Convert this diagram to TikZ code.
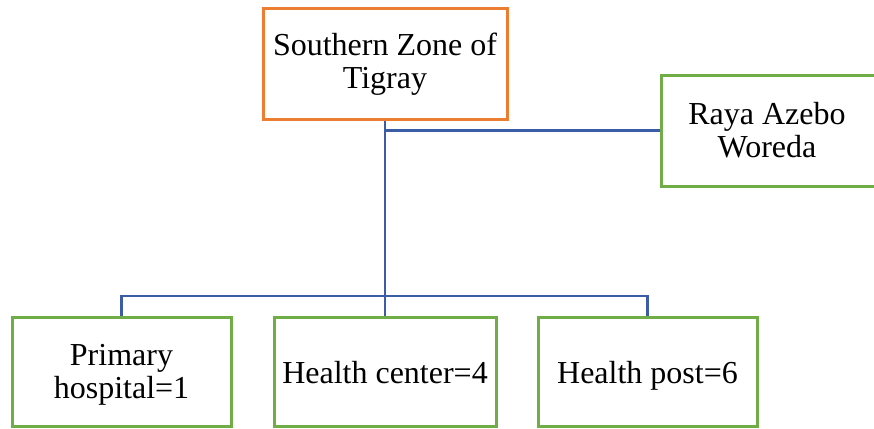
\documentclass[tikz,border=0pt]{standalone}
\usepackage{fontspec}
\setmainfont{Liberation Serif}
\usepackage{tikz}
\definecolor{boxorange}{HTML}{ED7D31}
\definecolor{boxgreen}{HTML}{70AD47}
\definecolor{linkblue}{HTML}{3B5CA6}
\begin{document}
\begin{tikzpicture}[
        x=1pt, y=-1pt,
        every node/.append style={font=\fontsize{32}{33}\selectfont}
    ]
    \tikzstyle{unit}=[draw=boxgreen,line width=3pt,fill=white,align=center,inner sep=0pt];
    \tikzstyle{facility}=[unit,minimum height=109pt,text height=24pt,text depth=1pt];
    \tikzstyle{link}=[draw=linkblue,line width=2.8pt];
    \useasboundingbox (0,0) rectangle (874,428);
    % zone
    \node[unit,draw=boxorange,minimum width=244pt,minimum height=110pt] (zone) at (385,64) {Southern Zone of\\Tigray};
    % woreda
    \node[unit,minimum width=222pt,minimum height=111pt] (woreda) at (772,130.5) {\hspace*{-10pt}Raya Azebo\\\hspace*{-10pt}Woreda};
    % facilities
    \node[facility,minimum width=219pt,text height=57pt,text depth=4pt] (hosp) at (121.5,371.5) {Primary\\hospital=1};
    \node[facility,minimum width=222pt] (center) at (385,371.5) {Health center=4};
    \node[facility,minimum width=219pt] (post) at (647.5,371.5) {Health post=6};
    \coordinate (bus) at (385,296);
    \draw[link] (zone.south) -- (center.north);
    \draw[link] (zone.south |- woreda.west) -- (woreda.west);
    \draw[link] (hosp.north) |- (bus) -| (post.north);
\end{tikzpicture}
\end{document}
